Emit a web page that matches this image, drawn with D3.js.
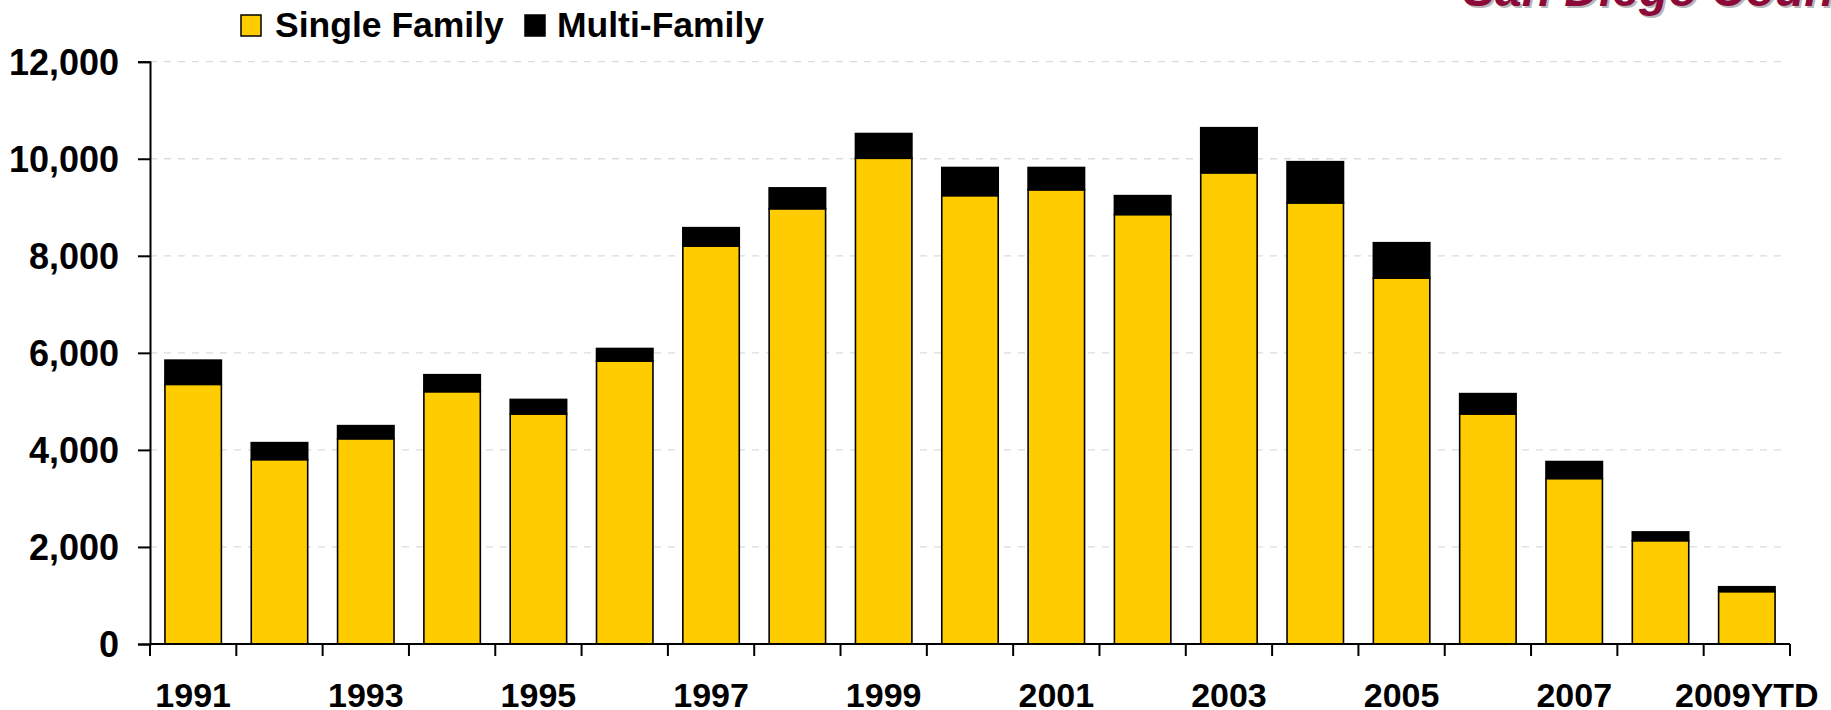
<!DOCTYPE html>
<html>
<head>
<meta charset="utf-8">
<script src="https://cdn.jsdelivr.net/npm/d3@7"></script>
<style>
  html, body { margin: 0; padding: 0; background: #fff; }
  svg { display: block; font-family: "Liberation Sans", Arial, sans-serif; }
</style>
</head>
<body>
<svg id="chart" width="1831" height="710"></svg>
<script>
// ---- data ----
const categories = ["1991","1992","1993","1994","1995","1996","1997","1998","1999","2000",
                    "2001","2002","2003","2004","2005","2006","2007","2008","2009YTD"];
const singleFamily = [5350, 3800, 4230, 5200, 4740, 5830, 8200, 8970, 10010, 9240,
                      9360, 8850, 9710, 9090, 7540, 4740, 3410, 2130, 1080];
const multiFamily  = [500, 350, 270, 350, 300, 260, 380, 430, 510, 580,
                      460, 390, 930, 850, 730, 420, 350, 180, 100];
const yTicks = [0, 2000, 4000, 6000, 8000, 10000, 12000];
const xLabels = ["1991","1993","1995","1997","1999","2001","2003","2005","2007","2009YTD"];
const seriesNames = ["Single Family", "Multi-Family"];
const titleText = "San Diego County";

// ---- layout ----
const svg = d3.select("#chart");
const plotLeft = 150, plotRight = 1790, plotTop = 61.7, plotBottom = 644;
const colors = { "Single Family": "#FFCC00", "Multi-Family": "#000000" };

const x = d3.scaleBand().domain(categories).range([plotLeft, plotRight])
  .paddingInner(0.346).paddingOuter(0.173);
const y = d3.scaleLinear().domain([0, 12000]).range([plotBottom, plotTop]);

// gridlines
svg.append("g").selectAll("line").data(yTicks.filter(d => d > 0)).join("line")
  .attr("x1", plotLeft).attr("x2", plotRight - 2)
  .attr("y1", d => y(d)).attr("y2", d => y(d))
  .attr("stroke", "#dcdcdc").attr("stroke-width", 1.3)
  .attr("stroke-dasharray", "7,7");

// stacked bars
const rows = categories.map((c, i) => ({ cat: c, "Single Family": singleFamily[i], "Multi-Family": multiFamily[i] }));
const stack = d3.stack().keys(seriesNames)(rows);
svg.append("g").selectAll("g").data(stack).join("g")
  .attr("fill", d => colors[d.key])
  .selectAll("rect").data(d => d).join("rect")
  .attr("x", d => x(d.data.cat))
  .attr("width", x.bandwidth())
  .attr("y", d => y(d[1]))
  .attr("height", d => y(d[0]) - y(d[1]))
  .attr("stroke", "#000").attr("stroke-width", 1.6);

// y axis
const yAxis = svg.append("g").attr("transform", `translate(${plotLeft},0)`)
  .call(d3.axisLeft(y).tickValues(yTicks).tickFormat(d3.format(",")).tickSize(12).tickPadding(6));
yAxis.select(".domain").attr("stroke", "#000").attr("stroke-width", 2);
yAxis.selectAll(".tick line").attr("stroke", "#000").attr("stroke-width", 2);
yAxis.selectAll(".tick text")
  .attr("font-size", 36).attr("font-weight", "bold").attr("fill", "#000")
  .attr("font-family", "'Liberation Sans', Arial, sans-serif")
  .attr("x", -31).attr("dy", "0.36em");

// x axis (labels on alternate categories)
const xAxis = svg.append("g").attr("transform", `translate(0,${plotBottom})`)
  .call(d3.axisBottom(x).tickValues(xLabels.map((l, i) => categories[i * 2])).tickFormat((d, i) => xLabels[i]).tickSize(0));
xAxis.select(".domain").remove();
xAxis.selectAll(".tick text")
  .attr("font-size", 34).attr("font-weight", "bold").attr("fill", "#000")
  .attr("font-family", "'Liberation Sans', Arial, sans-serif")
  .attr("y", 63).attr("dy", 0);
// axis line & boundary ticks
const step = x.step();
const boundaries = categories.map(c => x(c) - (step - x.bandwidth()) / 2).concat([plotRight]);
svg.append("line").attr("x1", plotLeft).attr("x2", plotRight).attr("y1", plotBottom).attr("y2", plotBottom)
  .attr("stroke", "#000").attr("stroke-width", 2);
svg.append("g").selectAll("line").data(boundaries).join("line")
  .attr("x1", d => d).attr("x2", d => d).attr("y1", plotBottom).attr("y2", plotBottom + 12)
  .attr("stroke", "#000").attr("stroke-width", 2);

// legend
const legend = svg.append("g");
const legendPos = [{ rx: 241, tx: 275 }, { rx: 525, tx: 557 }];
seriesNames.forEach((s, i) => {
  legend.append("rect").attr("x", legendPos[i].rx).attr("y", 15).attr("width", 20).attr("height", 21)
    .attr("fill", colors[s]).attr("stroke", "#000").attr("stroke-width", 1.5);
  legend.append("text").attr("x", legendPos[i].tx).attr("y", 37)
    .attr("font-size", 35.5).attr("font-weight", "bold").attr("fill", "#000").text(s);
});

// title (cut off at top)
const tg = svg.append("g").attr("font-size", 48).attr("font-weight", "bold").attr("font-style", "italic");
tg.append("text").attr("x", 1465).attr("y", 8).attr("fill", "#b8b8b8").text(titleText);
tg.append("text").attr("x", 1463).attr("y", 6).attr("fill", "#8B0A3A").text(titleText);
</script>
</body>
</html>
